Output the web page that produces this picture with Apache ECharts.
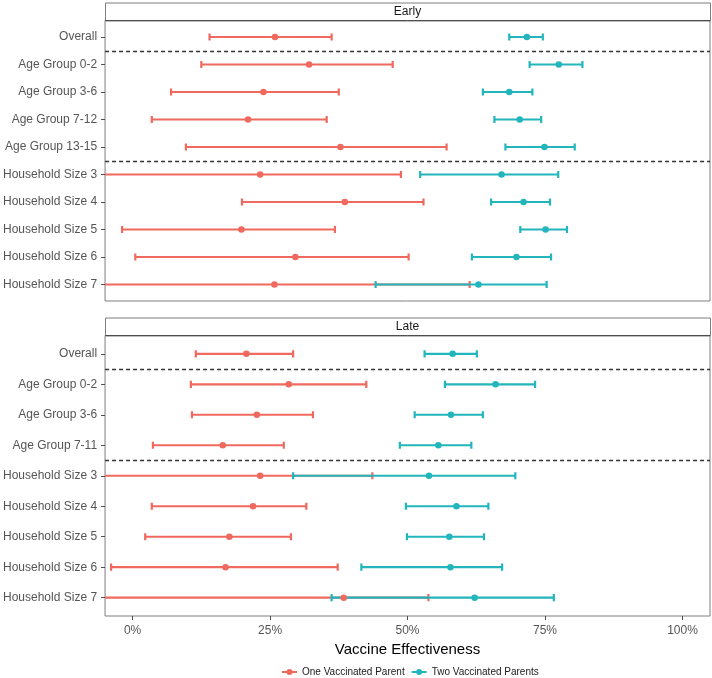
<!DOCTYPE html>
<html>
<head>
<meta charset="utf-8">
<script src="https://cdn.jsdelivr.net/npm/echarts@6/dist/echarts.min.js"></script>
<style>
html,body{margin:0;padding:0;background:#fff;}
#chart{width:712px;height:678px;}
</style>
</head>
<body>
<div id="chart"></div>
<script>
// ---------------- data ----------------
const earlyCategories = ['Overall','Age Group 0-2','Age Group 3-6','Age Group 7-12','Age Group 13-15',
  'Household Size 3','Household Size 4','Household Size 5','Household Size 6','Household Size 7'];
const earlyGroups = ['Overall','Age','Age','Age','Age','Household','Household','Household','Household','Household'];
const earlyOneEst  = [25.9, 32.1, 23.8, 21.0, 37.8, 23.2, 38.6, 19.8, 29.6, 25.8];
const earlyOneLow  = [14.0, 12.5,  7.0,  3.5,  9.7, -15.0, 19.9, -1.9,  0.5, -40.0];
const earlyOneHigh = [36.2, 47.3, 37.5, 35.3, 57.1, 48.8, 52.9, 36.8, 50.2, 61.3];
const earlyTwoEst  = [71.7, 77.5, 68.5, 70.4, 74.9, 67.1, 71.1, 75.1, 69.8, 62.9];
const earlyTwoLow  = [68.5, 72.2, 63.7, 65.8, 67.8, 52.3, 65.2, 70.5, 61.7, 44.2];
const earlyTwoHigh = [74.6, 81.8, 72.7, 74.3, 80.4, 77.4, 75.9, 79.0, 76.1, 75.3];

const lateCategories = ['Overall','Age Group 0-2','Age Group 3-6','Age Group 7-11',
  'Household Size 3','Household Size 4','Household Size 5','Household Size 6','Household Size 7'];
const lateGroups = ['Overall','Age','Age','Age','Household','Household','Household','Household','Household'];
const lateOneEst  = [20.7, 28.4, 22.6, 16.4, 23.2, 21.9, 17.6, 16.9, 38.4];
const lateOneLow  = [11.5, 10.6, 10.8,  3.7, -10.0, 3.5,  2.3, -3.9, -20.0];
const lateOneHigh = [29.2, 42.5, 32.8, 27.5, 43.6, 31.6, 28.8, 37.3, 53.8];
const lateTwoEst  = [58.2, 66.0, 57.9, 55.6, 53.9, 58.9, 57.6, 57.8, 62.2];
const lateTwoLow  = [53.1, 56.8, 51.3, 48.6, 29.2, 49.7, 49.9, 41.6, 36.2];
const lateTwoHigh = [62.6, 73.2, 63.7, 61.6, 69.6, 64.7, 63.9, 67.2, 76.6];

const panelTitles = ['Early', 'Late'];
const seriesNames = ['One Vaccinated Parent', 'Two Vaccinated Parents'];
const xTicks = [0, 25, 50, 75, 100];
const xTitle = 'Vaccine Effectiveness';

// ---------------- styling ----------------
const RED = '#F0695E';
const TEAL = '#22B6BC';
const FONT = "'Liberation Sans', Arial, Helvetica, sans-serif";
const PANEL_LEFT = 105, PANEL_W = 605;
const panels = [
  {top: 20.5, height: 280.5, stripTop: 2.5},
  {top: 335.5, height: 280.5, stripTop: 317.5}
];

function separators(groups) {
  const s = [];
  for (let i = 1; i < groups.length; i++) if (groups[i] !== groups[i-1]) s.push(i - 0.5);
  return s;
}

function makeErrorRender(color) {
  return function (params, api) {
    const y = api.value(2);
    const p1 = api.coord([api.value(0), y]);
    const p2 = api.coord([api.value(1), y]);
    const h = 3.6;
    const style = {stroke: color, lineWidth: 2.2, fill: null};
    return {
      type: 'group',
      children: [
        {type: 'line', shape: {x1: p1[0], y1: p1[1], x2: p2[0], y2: p2[1]}, style: style},
        {type: 'line', shape: {x1: p1[0], y1: p1[1] - h, x2: p1[0], y2: p1[1] + h}, style: style},
        {type: 'line', shape: {x1: p2[0], y1: p2[1] - h, x2: p2[0], y2: p2[1] + h}, style: style}
      ]
    };
  };
}

const panelData = [
  {cats: earlyCategories, groups: earlyGroups,
   one: [earlyOneLow, earlyOneHigh, earlyOneEst], two: [earlyTwoLow, earlyTwoHigh, earlyTwoEst]},
  {cats: lateCategories, groups: lateGroups,
   one: [lateOneLow, lateOneHigh, lateOneEst], two: [lateTwoLow, lateTwoHigh, lateTwoEst]}
];

const grids = [], xAxes = [], yAxes = [], series = [], graphics = [];

panelData.forEach((pd, k) => {
  const P = panels[k];
  const n = pd.cats.length;
  const idx = pd.cats.map((c, i) => i);
  grids.push({left: PANEL_LEFT, top: P.top, width: PANEL_W, height: P.height,
    show: true, borderColor: '#7F7F7F', borderWidth: 1, backgroundColor: 'transparent'});
  const isBottom = k === panelData.length - 1;
  xAxes.push({
    type: 'value', gridIndex: k, min: -5, max: 105, position: 'bottom',
    axisLine: {show: false, onZero: false},
    splitLine: {show: false},
    axisTick: {show: isBottom, length: 4, lineStyle: {color: '#4D4D4D'}, customValues: xTicks},
    axisLabel: {show: isBottom, customValues: xTicks, formatter: v => v + '%',
      color: '#555', fontSize: 12, fontFamily: FONT, margin: 9},
    name: isBottom ? xTitle : '', nameLocation: 'middle', nameGap: 26,
    nameTextStyle: {color: '#000', fontSize: 15, fontFamily: FONT}
  });
  yAxes.push({
    type: 'value', gridIndex: k, inverse: true, min: -0.6, max: n - 1 + 0.6, position: 'left',
    axisLine: {show: false, onZero: false},
    splitLine: {show: false},
    axisTick: {show: true, length: 4, lineStyle: {color: '#4D4D4D'}, customValues: idx},
    axisLabel: {customValues: idx, formatter: v => pd.cats[Math.round(v)],
      color: '#555', fontSize: 12, fontFamily: FONT, margin: 8}
  });
  const sep = separators(pd.groups);
  [[pd.one, RED, seriesNames[0]], [pd.two, TEAL, seriesNames[1]]].forEach(([arr, color, name], j) => {
    const s = {
      type: 'custom', name: name, xAxisIndex: k, yAxisIndex: k, clip: true,
      renderItem: makeErrorRender(color),
      itemStyle: {color: color},
      encode: {x: [0, 1], y: 2},
      data: arr[0].map((lo, i) => [lo, arr[1][i], i]),
      silent: true, z: 2
    };
    if (j === 0) {
      s.markLine = {
        silent: true, symbol: 'none', label: {show: false},
        lineStyle: {color: '#333', type: [4, 3], width: 1.3},
        data: sep.map(v => ({yAxis: v}))
      };
    }
    series.push(s);
  });
  [[pd.one, RED, seriesNames[0]], [pd.two, TEAL, seriesNames[1]]].forEach(([arr, color, name]) => {
    series.push({
      type: 'scatter', name: name, xAxisIndex: k, yAxisIndex: k,
      symbol: 'circle', symbolSize: 6.5,
      itemStyle: {color: color, opacity: 1},
      data: arr[2].map((v, i) => [v, i]),
      silent: true, z: 3
    });
  });
  // facet strip
  graphics.push({
    type: 'rect', left: PANEL_LEFT, top: P.stripTop, z: 10,
    shape: {width: PANEL_W, height: P.top - P.stripTop},
    style: {fill: '#fff', stroke: '#7F7F7F', lineWidth: 1}
  });
  graphics.push({
    type: 'line', z: 11,
    shape: {x1: PANEL_LEFT, y1: P.top, x2: PANEL_LEFT + PANEL_W, y2: P.top},
    style: {stroke: '#4D4D4D', lineWidth: 1}
  });
  graphics.push({
    type: 'text', z: 11,
    x: PANEL_LEFT + PANEL_W / 2, y: (P.stripTop + P.top) / 2,
    style: {text: panelTitles[k], fill: '#1A1A1A', font: '12px ' + FONT, align: 'center', verticalAlign: 'middle'}
  });
});

const legendIcon = 'path://M0,2.1H15V3.9H0Z M4.5,3A3,3 0 1 1 10.5,3A3,3 0 1 1 4.5,3Z';

const option = {
  animation: false,
  textStyle: {fontFamily: FONT},
  grid: grids,
  xAxis: xAxes,
  yAxis: yAxes,
  series: series,
  graphic: graphics,
  legend: {
    left: 282, top: 667, itemWidth: 15, itemHeight: 6, itemGap: 7, padding: 0,
    selectedMode: false,
    textStyle: {fontSize: 10, color: '#1A1A1A', fontFamily: FONT},
    data: [
      {name: seriesNames[0], icon: legendIcon, itemStyle: {color: RED}},
      {name: seriesNames[1], icon: legendIcon, itemStyle: {color: TEAL}}
    ]
  }
};

const chart = echarts.init(document.getElementById('chart'), null, {renderer: 'canvas'});
chart.setOption(option);
</script>
</body>
</html>
